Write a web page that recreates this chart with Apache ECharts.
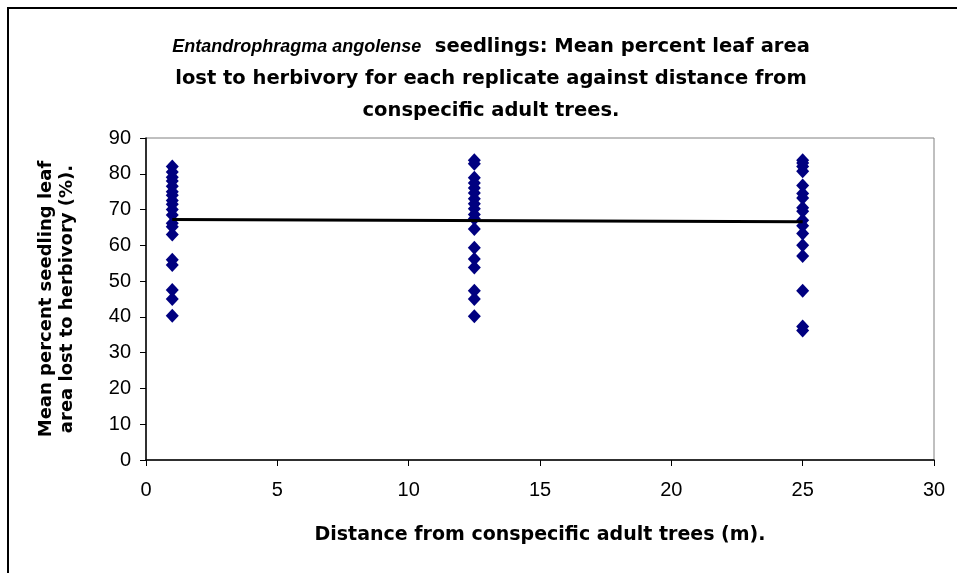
<!DOCTYPE html>
<html><head><meta charset="utf-8">
<script src="https://cdn.jsdelivr.net/npm/echarts@6/dist/echarts.min.js"></script>
<style>html,body{margin:0;padding:0;background:#fff}#c{width:957px;height:573px}</style>
</head><body><div id="c"></div>
<script>
var distances = [1, 12.5, 25];
var col1 = [82, 80.5, 79, 78, 76.5, 75, 74, 72.5, 71.5, 70, 68.5, 66.2, 65.2, 63, 56, 54.5, 47.5, 45, 40.3];
var col2 = [83.8, 82.8, 78.9, 77.4, 76, 74.6, 73, 71.6, 70.2, 68.6, 67.4, 64.6, 59.3, 56.2, 53.8, 47.3, 45, 40.2];
var col3 = [83.8, 83, 82, 80.7, 76.7, 74.5, 73.2, 70.5, 69.5, 67, 65.5, 63.3, 60, 57, 47.3, 37.3, 36.2];
var trendX = [1, 25];
var trendY = [67.2, 66.6];
var xTicks = [0, 5, 10, 15, 20, 25, 30];
var yTicks = [0, 10, 20, 30, 40, 50, 60, 70, 80, 90];

var pts = [];
[col1, col2, col3].forEach(function (c, i) {
  c.forEach(function (v) { pts.push([distances[i], v]); });
});
var trend = trendX.map(function (x, i) { return [x, trendY[i]]; });

var boldFont = 'DejaVu Sans, Liberation Sans, Arial, sans-serif';
var tickFont = 'Liberation Sans, Arial, sans-serif';

var chart = echarts.init(document.getElementById('c'), null, {renderer: 'canvas'});
chart.setOption({
  animation: false,
  backgroundColor: '#fff',
  title: {
    text: '{i|Entandrophragma angolense}  seedlings: Mean percent leaf area\nlost to herbivory for each replicate against distance from\nconspecific adult trees.',
    left: 486, top: 26, textAlign: 'center',
    textStyle: {
      fontFamily: boldFont, fontSize: 19.5, fontWeight: 'bold',
      color: '#000', lineHeight: 32,
      rich: { i: { fontStyle: 'italic', fontWeight: 'bold', fontSize: 18, fontFamily: tickFont, lineHeight: 32, color: '#000' } }
    }
  },
  graphic: [{
    type: 'rect', shape: {x: 8, y: 8, width: 1000, height: 1000},
    style: {fill: 'none', stroke: '#000', lineWidth: 2}, silent: true
  }],
  grid: {left: 146, right: 23, top: 138, bottom: 113, show: true, borderColor: '#808080', borderWidth: 1},
  xAxis: {
    type: 'value', min: xTicks[0], max: xTicks[xTicks.length - 1], interval: 5,
    name: 'Distance from conspecific adult trees (m).', nameLocation: 'middle', nameGap: 66,
    nameTextStyle: {fontFamily: boldFont, fontSize: 19, fontWeight: 'bold', color: '#000'},
    axisLine: {show: true, lineStyle: {color: '#000', width: 1.5}},
    axisTick: {show: true, inside: false, length: 6, lineStyle: {color: '#000'}},
    axisLabel: {fontFamily: tickFont, fontSize: 20, color: '#000', margin: 20},
    splitLine: {show: false}
  },
  yAxis: {
    type: 'value', min: yTicks[0], max: yTicks[yTicks.length - 1], interval: 10,
    name: 'Mean percent seedling leaf\narea lost to herbivory (%).', nameLocation: 'middle', nameGap: 68, nameRotate: 90,
    nameTextStyle: {fontFamily: boldFont, fontSize: 18, fontWeight: 'bold', color: '#000', lineHeight: 21},
    axisLine: {show: true, lineStyle: {color: '#000', width: 1.5}},
    axisTick: {show: true, inside: false, length: 6, lineStyle: {color: '#000'}},
    axisLabel: {fontFamily: tickFont, fontSize: 20, color: '#000', margin: 15},
    splitLine: {show: false}
  },
  series: [{
    type: 'scatter', data: pts, symbol: 'diamond', symbolSize: [13, 14],
    itemStyle: {color: '#000080', opacity: 1}, z: 3
  }, {
    type: 'line', data: trend, showSymbol: false, symbol: 'none',
    lineStyle: {color: '#000', width: 3}, z: 4
  }]
});
</script></body></html>
